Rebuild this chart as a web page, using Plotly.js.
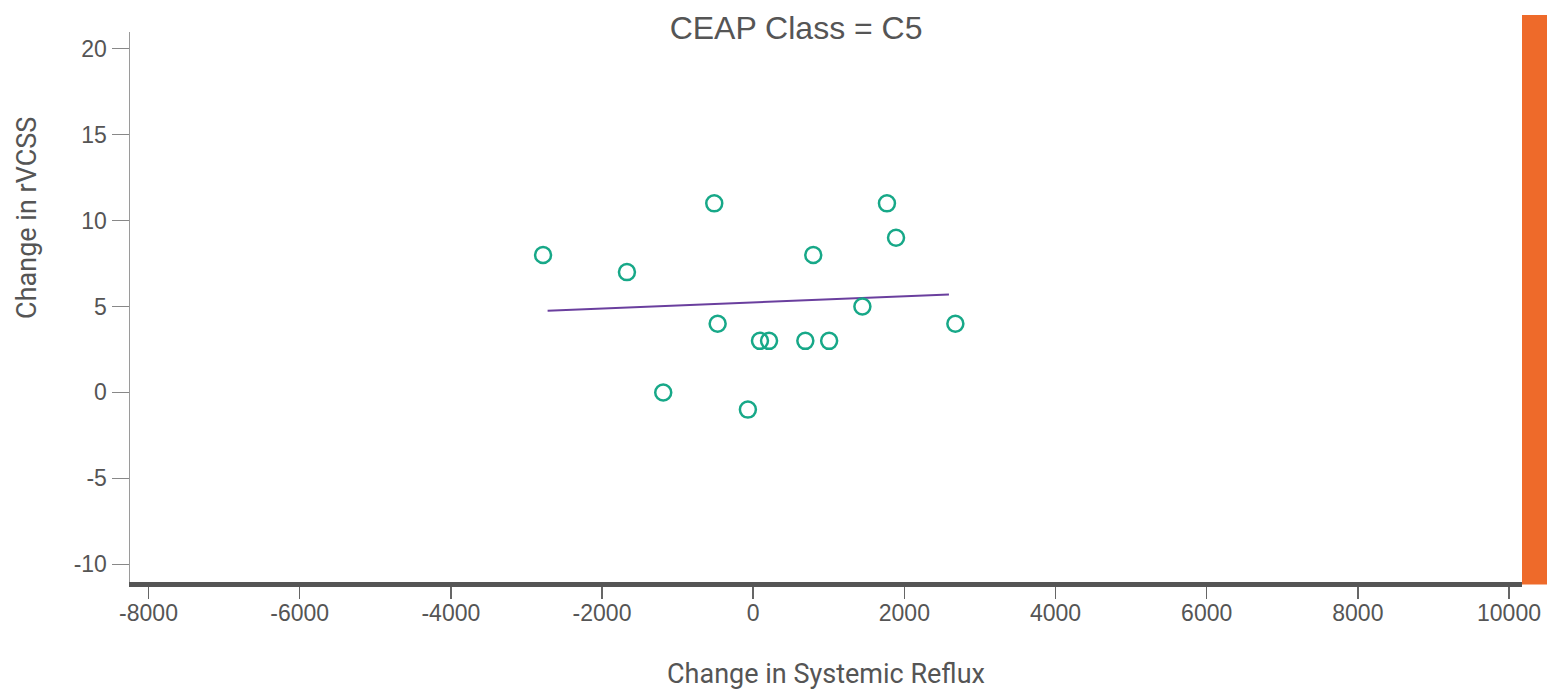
<!DOCTYPE html>
<html>
<head>
<meta charset="utf-8">
<script src="https://cdn.plot.ly/plotly-3.0.1.min.js"></script>
<style>
  html, body { margin: 0; padding: 0; background: #ffffff; }
  #chart { width: 1547px; height: 699px; }
</style>
</head>
<body>
<div id="chart"></div>
<script>
// Change in systemic reflux vs change in rVCSS, CEAP class C5
const refluxChange = [-2780, -1670, -515, -470, -1190, -70, 90, 210, 690, 1005, 795, 1445, 1770, 1890, 2675];
const rvcssChange  = [8, 7, 11, 4, 0, -1, 3, 3, 3, 3, 8, 5, 11, 9, 4];

// Linear fit endpoints
const fitX = [-2720, 2590];
const fitY = [4.75, 5.70];

const xTicks = [-8000, -6000, -4000, -2000, 0, 2000, 4000, 6000, 8000, 10000];
const yTicks = [-10, -5, 0, 5, 10, 15, 20];

const tickFont = { family: 'Liberation Sans, Arial, sans-serif', size: 23, color: '#555555' };
const titleFont = { family: 'Roboto, Liberation Sans, sans-serif', size: 27, color: '#555555' };

const traces = [
  {
    x: fitX, y: fitY,
    type: 'scatter', mode: 'lines',
    line: { color: '#6a3f9e', width: 2 },
    hoverinfo: 'skip', showlegend: false
  },
  {
    x: refluxChange, y: rvcssChange,
    type: 'scatter', mode: 'markers',
    marker: { symbol: 'circle-open', size: 16, color: '#17a888', line: { width: 2.5, color: '#17a888' } },
    showlegend: false
  }
];

const layout = {
  width: 1547, height: 699,
  paper_bgcolor: '#ffffff', plot_bgcolor: '#ffffff',
  margin: { l: 130, r: 25, t: 32, b: 117 },
  showlegend: false,
  title: {
    text: 'CEAP Class = C5',
    x: 0.5146, xanchor: 'center', xref: 'container',
    y: 0.96, yanchor: 'middle', yref: 'container',
    font: { family: 'Liberation Sans, Arial, sans-serif', size: 32, color: '#555555' }
  },
  xaxis: {
    range: [-8245, 10172],
    tickvals: xTicks, ticktext: xTicks.map(String),
    showgrid: false, zeroline: false,
    showline: true, linecolor: '#555555', linewidth: 5,
    ticks: 'outside', ticklen: 12, tickwidth: 1.5, tickcolor: '#666666',
    tickfont: tickFont, ticklabelstandoff: -6,
    title: { text: 'Change in Systemic Reflux', font: titleFont, standoff: 41 }
  },
  yaxis: {
    range: [-11.03, 20.97],
    tickvals: yTicks, ticktext: yTicks.map(String),
    showgrid: false, zeroline: false,
    showline: true, linecolor: '#9a9a9a', linewidth: 1.5,
    ticks: 'outside', ticklen: 17, tickwidth: 1.5, tickcolor: '#888888',
    tickfont: tickFont
  },
  annotations: [
    {
      text: 'Change in rVCSS',
      xref: 'paper', yref: 'paper',
      x: -0.074, y: 0.662,
      xanchor: 'center', yanchor: 'middle',
      textangle: -90, showarrow: false,
      font: titleFont
    }
  ],
  shapes: [
    {
      type: 'rect', xref: 'paper', yref: 'paper',
      x0: 1.0, x1: 1.02, y0: -0.0045, y1: 1.031,
      fillcolor: '#ee6a2a', line: { width: 0 }, layer: 'above'
    }
  ]
};

Plotly.newPlot('chart', traces, layout, { displayModeBar: false, staticPlot: true });
</script>
</body>
</html>
